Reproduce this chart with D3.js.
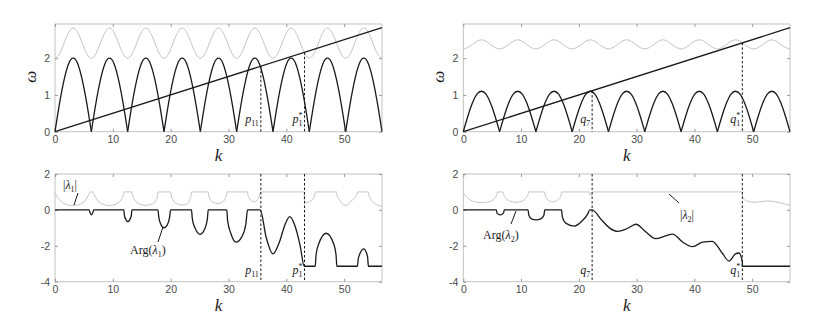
<!DOCTYPE html>
<html><head><meta charset="utf-8">
<script src="https://cdn.jsdelivr.net/npm/d3@7"></script>
<style>body{margin:0;background:#fff} svg{display:block}</style>
</head><body>
<svg id="c" width="830" height="317"></svg>
<script>
// ---------- DATA ----------
const xTicks = [0, 10, 20, 30, 40, 50];
const yTicksTop = [0, 1, 2];
const yTicksBottom = [-4, -2, 0, 2];

// sampled wavenumbers (top panels)
const kTop = [
 0, 0.785, 1.571, 2.356, 3.142, 3.927, 4.712, 5.498,
 6.283, 7.069, 7.854, 8.639, 9.425, 10.21, 10.996, 11.781,
 12.566, 13.352, 14.137, 14.923, 15.708, 16.493, 17.279, 18.064,
 18.85, 19.635, 20.42, 21.206, 21.991, 22.777, 23.562, 24.347,
 25.133, 25.918, 26.704, 27.489, 28.274, 29.06, 29.845, 30.631,
 31.416, 32.201, 32.987, 33.772, 34.558, 35.343, 36.128, 36.914,
 37.699, 38.485, 39.27, 40.055, 40.841, 41.626, 42.412, 43.197,
 43.982, 44.768, 45.553, 46.338, 47.124, 47.909, 48.695, 49.48,
 50.265, 51.051, 51.836, 52.622, 53.407, 54.192, 54.978, 55.763,
 56.549];

const omegaLowL = [
 0,0.77,1.41,1.85,2,1.85,1.41,0.77, 0,0.77,1.41,1.85,2,1.85,1.41,0.77,
 0,0.77,1.41,1.85,2,1.85,1.41,0.77, 0,0.77,1.41,1.85,2,1.85,1.41,0.77,
 0,0.77,1.41,1.85,2,1.85,1.41,0.77, 0,0.77,1.41,1.85,2,1.85,1.41,0.77,
 0,0.77,1.41,1.85,2,1.85,1.41,0.77, 0,0.77,1.41,1.85,2,1.85,1.41,0.77,
 0,0.77,1.41,1.85,2,1.85,1.41,0.77, 0];
const omegaHighL = [
 2,2.12,2.41,2.70,2.82,2.70,2.41,2.12, 2,2.12,2.41,2.70,2.82,2.70,2.41,2.12,
 2,2.12,2.41,2.70,2.82,2.70,2.41,2.12, 2,2.12,2.41,2.70,2.82,2.70,2.41,2.12,
 2,2.12,2.41,2.70,2.82,2.70,2.41,2.12, 2,2.12,2.41,2.70,2.82,2.70,2.41,2.12,
 2,2.12,2.41,2.70,2.82,2.70,2.41,2.12, 2,2.12,2.41,2.70,2.82,2.70,2.41,2.12,
 2,2.12,2.41,2.70,2.82,2.70,2.41,2.12, 2];
const omegaLowR = [
 0,0.42,0.78,1.02,1.1,1.02,0.78,0.42, 0,0.42,0.78,1.02,1.1,1.02,0.78,0.42,
 0,0.42,0.78,1.02,1.1,1.02,0.78,0.42, 0,0.42,0.78,1.02,1.1,1.02,0.78,0.42,
 0,0.42,0.78,1.02,1.1,1.02,0.78,0.42, 0,0.42,0.78,1.02,1.1,1.02,0.78,0.42,
 0,0.42,0.78,1.02,1.1,1.02,0.78,0.42, 0,0.42,0.78,1.02,1.1,1.02,0.78,0.42,
 0,0.42,0.78,1.02,1.1,1.02,0.78,0.42, 0];
const omegaHighR = [
 2.25,2.29,2.37,2.46,2.5,2.46,2.37,2.29, 2.25,2.29,2.37,2.46,2.5,2.46,2.37,2.29,
 2.25,2.29,2.37,2.46,2.5,2.46,2.37,2.29, 2.25,2.29,2.37,2.46,2.5,2.46,2.37,2.29,
 2.25,2.29,2.37,2.46,2.5,2.46,2.37,2.29, 2.25,2.29,2.37,2.46,2.5,2.46,2.37,2.29,
 2.25,2.29,2.37,2.46,2.5,2.46,2.37,2.29, 2.25,2.29,2.37,2.46,2.5,2.46,2.37,2.29,
 2.25,2.29,2.37,2.46,2.5,2.46,2.37,2.29, 2.25];

// forcing line omega = c k
const lineK = [0, 56.549];
const lineW = [0, 2.83];

// marker wavenumbers
const markL = [35.6, 43.15];
const markR = [22.3, 48.3];

// bottom-left: |lambda1| and Arg(lambda1)
const absK1 = [0,0.8,1.8,3.1,4.4,5.3,5.9,6.05,6.55,6.7,7.3,8.3,9.4,10.5,11.4,11.85,11.9,13.3,13.35,13.8,14.6,15.7,16.8,17.5,17.75,17.8,20.0,20.05,20.4,21.2,22.0,22.8,23.3,23.55,23.6,26.5,26.55,26.9,27.5,28.1,28.7,29.3,29.65,29.7,33.3,33.35,33.7,34.4,35.1,35.45,35.5,43.1,43.12,43.5,44.0,44.6,44.95,45.0,48.7,48.75,49.2,50.3,51.4,52.2,52.3,54.2,54.25,54.7,55.6,56.549];
const absV1 = [0.93,0.55,0.33,0.24,0.33,0.55,0.9,1,1,0.9,0.55,0.32,0.24,0.32,0.55,0.85,1,1,0.85,0.55,0.33,0.25,0.33,0.55,0.85,1,1,0.85,0.55,0.33,0.27,0.33,0.55,0.85,1,1,0.85,0.55,0.4,0.35,0.4,0.55,0.85,1,1,0.85,0.6,0.45,0.6,0.9,1,1,0.45,0.4,0.45,0.6,0.85,1,1,0.85,0.55,0.25,0.55,0.85,1,1,0.85,0.55,0.3,0.2];
const argK1 = [0,5.9,6.05,6.3,6.55,6.7,11.9,12.0,12.2,12.6,13.0,13.2,13.3,17.8,17.95,18.3,18.85,19.4,19.8,20.0,23.6,23.75,24.2,25.1,25.9,26.35,26.5,29.7,29.85,30.4,31.3,32.3,33.0,33.3,35.5,36.5,37.7,38.8,39.8,40.6,41.4,42.4,43.1,45.0,45.15,45.6,46.9,48.2,48.6,48.75,52.3,52.45,53.4,54.05,54.2,56.549];
const argV1 = [0,0,-0.15,-0.28,-0.15,0,0,-0.3,-0.5,-0.65,-0.5,-0.3,0,0,-0.4,-0.8,-1.0,-0.85,-0.45,0,0,-0.5,-1.0,-1.36,-1.05,-0.5,0,0,-0.6,-1.3,-1.8,-1.5,-0.8,0,0,-1.5,-2.45,-1.8,-0.8,-0.37,-0.8,-2.0,-3.14,-3.14,-2.5,-1.9,-1.3,-1.9,-2.5,-3.14,-3.14,-2.7,-2.17,-2.6,-3.14,-3.14];

// bottom-right: |lambda2| and Arg(lambda2)
const absK2 = [0,0.8,1.8,3.2,4.6,5.4,5.85,5.9,6.9,6.95,7.4,8.2,9.1,10.0,10.8,11.25,11.3,14.1,14.15,14.5,15.5,16.5,16.95,17.0,21.8,22.0,22.3,48.3,48.35,49.0,50.5,52.5,54.0,56.549];
const absV2 = [0.93,0.65,0.47,0.41,0.47,0.65,0.9,1,1,0.9,0.65,0.47,0.42,0.47,0.65,0.9,1,1,0.85,0.6,0.45,0.6,0.85,1,1,0.8,1,1,0.7,0.5,0.42,0.5,0.45,0.25];
const argK2 = [0,5.7,5.85,6.4,6.95,7.1,11.2,11.35,11.8,12.6,13.4,13.95,14.1,17.0,17.15,17.8,19.2,20.6,21.5,21.9,22.3,23.9,25.3,26.7,28.3,29.9,31.5,33.3,35.0,36.2,38.0,39.7,41.4,43.1,44.8,46.0,47.1,47.7,48.3,48.3,56.549];
const argV2 = [0,0,-0.18,-0.28,-0.18,0,0,-0.3,-0.5,-0.56,-0.5,-0.3,0,0,-0.4,-0.75,-0.9,-0.6,-0.25,0,0,-0.55,-1.0,-1.2,-1.05,-0.8,-1.2,-1.6,-1.45,-1.35,-1.8,-2.05,-1.8,-1.75,-2.4,-2.85,-2.45,-2.4,-2.9,-3.14,-3.14];

// ---------- LAYOUT ----------
const svg = d3.select('#c');
const kDomain = [0, 56.549];
const panels = [
  {x0:55, x1:382, y0:24, y1:131.7, yd:[0,2.93], yt:yTicksTop},
  {x0:463.3, x1:790, y0:24, y1:131.7, yd:[0,2.93], yt:yTicksTop},
  {x0:55, x1:382, y0:174, y1:281.7, yd:[-4,2], yt:yTicksBottom},
  {x0:463.3, x1:790, y0:174, y1:281.7, yd:[-4,2], yt:yTicksBottom}
];
panels.forEach(p => {
  p.x = d3.scaleLinear().domain(kDomain).range([p.x0, p.x1]);
  p.y = d3.scaleLinear().domain(p.yd).range([p.y1, p.y0]);
});

const BLACK = '#1a1a1a', GREY = '#c4c4c4', FRAME = '#c2c2c2', TXT = '#4a4a4a';
const serif = '"Liberation Serif","DejaVu Serif",serif';
const sans = '"Liberation Sans",Arial,sans-serif';
const LW = 1.3;

function frame(p) {
  const g = svg.append('g');
  g.append('rect').attr('x', p.x0).attr('y', p.y0).attr('width', p.x1 - p.x0).attr('height', p.y1 - p.y0)
    .attr('fill', 'none').attr('stroke', FRAME).attr('stroke-width', 1);
  const bx = d3.axisBottom(p.x).tickValues(xTicks).tickSize(-3).tickPadding(4).tickFormat(d3.format('d'));
  const tx = d3.axisTop(p.x).tickValues(xTicks).tickSize(-3).tickFormat('');
  const ly = d3.axisLeft(p.y).tickValues(p.yt).tickSize(-3).tickPadding(5).tickFormat(d3.format('d'));
  const ry = d3.axisRight(p.y).tickValues(p.yt).tickSize(-3).tickFormat('');
  const a1 = g.append('g').attr('transform', `translate(0,${p.y1})`).call(bx);
  const a2 = g.append('g').attr('transform', `translate(0,${p.y0})`).call(tx);
  const a3 = g.append('g').attr('transform', `translate(${p.x0},0)`).call(ly);
  const a4 = g.append('g').attr('transform', `translate(${p.x1},0)`).call(ry);
  [a1,a2,a3,a4].forEach(a => {
    a.select('.domain').remove();
    a.selectAll('line').attr('stroke', '#9a9a9a');
    a.selectAll('text').attr('fill', TXT).style('font-family', sans).style('font-size', '10.5px');
  });
  a3.selectAll('text').text(d => d < 0 ? '-' + Math.abs(d) : d);
}

function seriesPts(K, V) { return K.map((k, i) => [k, V[i]]).filter(d => d[1] !== undefined); }

function drawSmooth(p, K, V, color, w, curve) {
  const line = d3.line().x(d => p.x(d[0])).y(d => p.y(d[1])).curve(curve || d3.curveMonotoneX);
  svg.append('path').datum(seriesPts(K, V)).attr('d', line)
    .attr('fill', 'none').attr('stroke', color).attr('stroke-width', w).attr('stroke-linejoin', 'round');
}

function drawArches(p, K, V, color, w) {
  const pts = seriesPts(K, V);
  const line = d3.line().x(d => p.x(d[0])).y(d => p.y(d[1])).curve(d3.curveNatural);
  let seg = [pts[0]];
  for (let i = 1; i < pts.length; i++) {
    seg.push(pts[i]);
    if (pts[i][1] === 0) {
      if (seg.length > 1) svg.append('path').datum(seg).attr('d', line)
        .attr('fill', 'none').attr('stroke', color).attr('stroke-width', w);
      seg = [pts[i]];
    }
  }
}

function dashed(p, k, top) {
  svg.append('line').attr('x1', p.x(k)).attr('x2', p.x(k))
    .attr('y1', top === undefined ? p.y0 : p.y(top)).attr('y2', p.y1)
    .attr('stroke', BLACK).attr('stroke-width', 1).attr('stroke-dasharray', '2.5,2');
}

function mathLabel(x, y, base, sub, sup, anchor) {
  const t = svg.append('text').attr('x', x).attr('y', y).attr('text-anchor', anchor || 'end')
    .style('font-family', serif).style('font-size', '12px').attr('fill', BLACK);
  t.append('tspan').style('font-style', 'italic').text(base);
  if (sup) {
    t.append('tspan').attr('dy', -5).style('font-size', '8px').text(sup);
    t.append('tspan').attr('dx', -4).attr('dy', 8).style('font-size', '8px').text(sub);
  } else {
    t.append('tspan').attr('dy', 3).style('font-size', '8px').text(sub);
  }
}

function lambdaLabel(x, y, kind, idx) {
  const t = svg.append('text').attr('x', x).attr('y', y)
    .style('font-family', serif).style('font-size', '12px').attr('fill', BLACK);
  if (kind === 'abs') {
    t.append('tspan').text('|');
    t.append('tspan').style('font-style', 'italic').text('λ');
    t.append('tspan').attr('dy', 3).style('font-size', '8px').text(idx);
    t.append('tspan').attr('dy', -3).text('|');
  } else {
    t.append('tspan').text('Arg(');
    t.append('tspan').style('font-style', 'italic').text('λ');
    t.append('tspan').attr('dy', 3).style('font-size', '8px').text(idx);
    t.append('tspan').attr('dy', -3).text(')');
  }
}

function pointer(x1, y1, x2, y2) {
  svg.append('line').attr('x1', x1).attr('y1', y1).attr('x2', x2).attr('y2', y2)
    .attr('stroke', BLACK).attr('stroke-width', 1);
}

function axisLabels(p, withOmega) {
  svg.append('text').attr('x', (p.x0 + p.x1) / 2).attr('y', p.y1 + 29).attr('text-anchor', 'middle')
    .style('font-family', serif).style('font-style', 'italic').style('font-size', '17px').attr('fill', BLACK).text('k');
  if (withOmega) {
    const cx = p.x0 - 25, cy = (p.y0 + p.y1) / 2 - 1;
    svg.append('text').attr('transform', `translate(${cx},${cy}) rotate(-90)`).attr('text-anchor', 'middle')
      .attr('dy', '0.35em').style('font-family', serif).style('font-style', 'italic').style('font-size', '17px')
      .attr('fill', BLACK).text('ω');
  }
}

// ---------- DRAW ----------
panels.forEach(frame);
const [TL, TR, BL, BR] = panels;

drawSmooth(TL, kTop, omegaHighL, GREY, 1, d3.curveNatural);
drawArches(TL, kTop, omegaLowL, BLACK, LW);
drawSmooth(TL, lineK, lineW, BLACK, LW, d3.curveLinear);
markL.forEach(k => dashed(TL, k, lineW[1] / lineK[1] * k));
mathLabel(TL.x(markL[0]) - 2, TL.y1 - 9, 'p', '11');
mathLabel(TL.x(markL[1]) - 2, TL.y1 - 9, 'p', '1', '*');
axisLabels(TL, true);

drawSmooth(TR, kTop, omegaHighR, GREY, 1, d3.curveNatural);
drawArches(TR, kTop, omegaLowR, BLACK, LW);
drawSmooth(TR, lineK, lineW, BLACK, LW, d3.curveLinear);
markR.forEach(k => dashed(TR, k, lineW[1] / lineK[1] * k));
mathLabel(TR.x(markR[0]) - 2, TR.y1 - 9, 'q', '7');
mathLabel(TR.x(markR[1]) - 2, TR.y1 - 9, 'q', '1', '*');
axisLabels(TR, true);

drawSmooth(BL, absK1, absV1, GREY, 1);
drawSmooth(BL, argK1, argV1, BLACK, LW);
markL.forEach(k => dashed(BL, k));
mathLabel(BL.x(markL[0]) - 2, BL.y1 - 8, 'p', '11');
mathLabel(BL.x(markL[1]) - 2, BL.y1 - 8, 'p', '1', '*');
lambdaLabel(63, 189, 'abs', '1');
pointer(78, 193, 74, 205);
lambdaLabel(130, 254, 'arg', '1');
pointer(158, 242, 163, 227);
axisLabels(BL, false);

drawSmooth(BR, absK2, absV2, GREY, 1);
drawSmooth(BR, argK2, argV2, BLACK, LW);
markR.forEach(k => dashed(BR, k));
mathLabel(BR.x(markR[0]) - 2, BR.y1 - 8, 'q', '7');
mathLabel(BR.x(markR[1]) - 2, BR.y1 - 8, 'q', '1', '*');
lambdaLabel(680, 219, 'abs', '2');
pointer(669, 194, 679, 203);
lambdaLabel(483, 239, 'arg', '2');
pointer(516, 211, 511, 224);
axisLabels(BR, false);
</script>
</body></html>
